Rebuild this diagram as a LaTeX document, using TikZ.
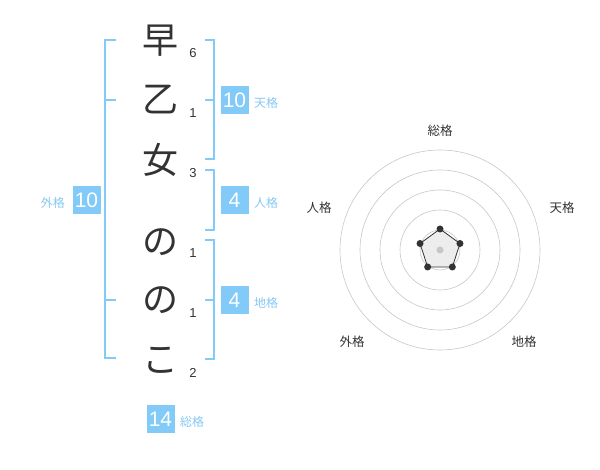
\documentclass[tikz,border=0pt]{standalone}
\usepackage{fontspec}
\usetikzlibrary{calc}
\setmainfont{Liberation Sans}
\newfontfamily\jp{Noto Sans CJK JP}
\definecolor{kblue}{HTML}{82CAF8}
\definecolor{klabel}{HTML}{86C8F2}
\definecolor{kdark}{HTML}{333333}
\begin{document}
\begin{tikzpicture}[x=1pt,y=-1pt,
 bigchar/.style={font=\jp\fontsize{36}{36}\selectfont, text=kdark, inner sep=0},
 strokes/.style={font=\fontsize{13}{13}\selectfont, text=kdark, inner sep=0},
 valbox/.style={fill=kblue, text=white, minimum size=28pt, inner sep=0, font=\fontsize{21}{21}\selectfont},
 kaku/.style={font=\jp\fontsize{12}{12}\selectfont, text=klabel, inner sep=0},
 bracket/.style={draw=kblue, line width=2pt},
 ring/.style={draw=black!22, line width=0.6pt},
 rlabel/.style={font=\jp\fontsize{12.5}{12.5}\selectfont, text=kdark, inner sep=0},
 vdot/.style={circle, fill=kdark, inner sep=0, minimum size=7pt}]
\useasboundingbox (0,0) rectangle (600,470);

% name characters
\node[bigchar] (c1) at (160,41) {早};
\node[bigchar] (c2) at (160,100) {乙};
\node[bigchar] (c3) at (160,160) {女};
\node[bigchar] (c4) at (160,242) {の};
\node[bigchar] (c5) at (160,300) {の};
\node[bigchar] (c6) at (160,360) {こ};

% stroke counts
\node[strokes] (s1) at (193,53) {6};
\node[strokes] (s2) at (193,113) {1};
\node[strokes] (s3) at (193,173) {3};
\node[strokes] (s4) at (193,253) {1};
\node[strokes] (s5) at (193,313) {1};
\node[strokes] (s6) at (193,373) {2};

% left bracket (外格)
\draw[bracket] (116,40) -- (105,40) -- (105,358) -- (116,358);
\draw[bracket] (105,100) -- (116,100);
\draw[bracket] (105,300) -- (116,300);

% right brackets
\draw[bracket] (205,40) -- (214,40) -- (214,159) -- (205,159);
\draw[bracket] (205,100) -- (214,100);
\draw[bracket] (205,170) -- (214,170) -- (214,230) -- (205,230);
\draw[bracket] (205,240) -- (214,240) -- (214,359) -- (205,359);
\draw[bracket] (205,300) -- (214,300);

% value boxes
\node[valbox] (ten) at (234.5,100.5) {10};
\node[kaku, anchor=west] (tenL) at (254,103) {天格};
\node[valbox] (jin) at (234.5,200) {4};
\node[kaku, anchor=west] (jinL) at (254,203) {人格};
\node[valbox] (chi) at (234.5,300.5) {4};
\node[kaku, anchor=west] (chiL) at (254,303) {地格};
\node[valbox] (gai) at (86.5,200) {10};
\node[kaku, anchor=east] (gaiL) at (65,203) {外格};
\node[valbox] (sou) at (160.5,419) {14};
\node[kaku, anchor=west] (souL) at (180,422) {総格};

% radar chart
\coordinate (rc) at (440,250);
\foreach \r in {20,40,60,80,100}
  \draw[ring] (rc) circle[radius=\r pt];
\node[rlabel] (rl1) at (440,130.5) {総格};
\node[rlabel] (rl2) at (562,208) {天格};
\node[rlabel] (rl3) at (524,341.5) {地格};
\node[rlabel] (rl4) at (352,341.5) {外格};
\node[rlabel] (rl5) at (319,208) {人格};

\coordinate (p1) at ($(rc)+(-90:21)$);
\coordinate (p2) at ($(rc)+(-18:21)$);
\coordinate (p3) at ($(rc)+(54:21)$);
\coordinate (p4) at ($(rc)+(126:21)$);
\coordinate (p5) at ($(rc)+(198:21)$);
\filldraw[fill=black!7, draw=kdark, line width=0.8pt] (p1) -- (p2) -- (p3) -- (p4) -- (p5) -- cycle;
\fill[black!22] (rc) circle[radius=3.5pt];
\foreach \i in {1,...,5}
  \node[vdot] (v\i) at (p\i) {};
\end{tikzpicture}
\end{document}
